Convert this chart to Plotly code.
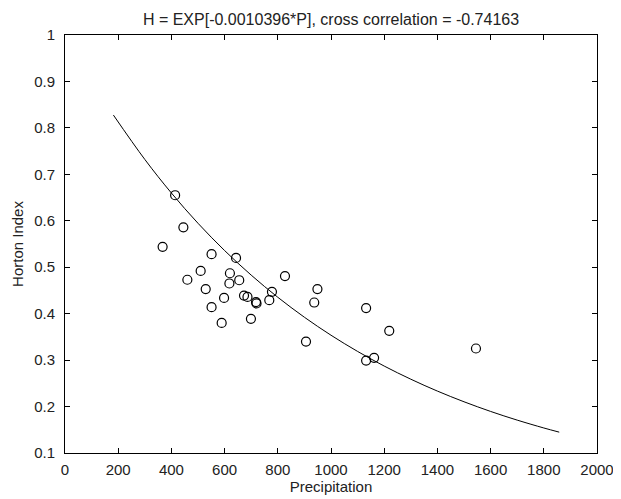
import plotly.graph_objects as go

# Observed data (Precipitation vs Horton Index)
precip = [414, 445, 367, 551, 643, 510, 460, 620, 655, 618, 529, 827, 949,
          598, 673, 686, 718, 720, 778, 768, 937, 551, 699, 589, 906,
          1132, 1219, 1132, 1162, 1545]
horton = [0.655, 0.586, 0.544, 0.528, 0.520, 0.492, 0.473, 0.487, 0.472, 0.465,
          0.453, 0.481, 0.453, 0.434, 0.439, 0.436, 0.425, 0.422, 0.447, 0.429,
          0.424, 0.414, 0.389, 0.380, 0.340, 0.412, 0.363, 0.299, 0.305, 0.325]

# Fitted curve H = EXP[-0.0010396*P]
fit_p = [182, 300, 400, 500, 600, 700, 800, 900, 1000, 1100, 1200, 1300,
         1400, 1500, 1600, 1700, 1800, 1858]
fit_h = [0.8276, 0.7321, 0.6598, 0.5946, 0.5359, 0.4830, 0.4353, 0.3923,
         0.3536, 0.3187, 0.2872, 0.2589, 0.2333, 0.2103, 0.1895, 0.1708,
         0.1539, 0.1449]

x_ticks = [0, 200, 400, 600, 800, 1000, 1200, 1400, 1600, 1800, 2000]
y_ticks = [0.1, 0.2, 0.3, 0.4, 0.5, 0.6, 0.7, 0.8, 0.9, 1.0]
y_ticktext = ["0.1", "0.2", "0.3", "0.4", "0.5", "0.6", "0.7", "0.8", "0.9", "1"]

title_text = "H = EXP[-0.0010396*P], cross correlation = -0.74163"

FONT = "Liberation Sans, Arial, Helvetica, sans-serif"
TXT = "#222222"

# the page body has an 8px margin; figure is sized so it fills the window
W, H = 613, 491

fig = go.Figure()
fig.add_trace(go.Scatter(
    x=precip, y=horton, mode="markers",
    marker=dict(symbol="circle-open", size=9, color="black",
                line=dict(width=1.2, color="black")),
    showlegend=False, hoverinfo="x+y"))
fig.add_trace(go.Scatter(
    x=fit_p, y=fit_h, mode="lines", line=dict(color="black", width=1),
    line_shape="spline", showlegend=False, hoverinfo="skip"))

axis_common = dict(
    showline=True, linecolor="black", linewidth=1, mirror="ticks",
    ticks="inside", ticklen=5, tickwidth=1, tickcolor="black",
    showgrid=False, zeroline=False, automargin=False,
    tickfont=dict(family=FONT, size=15, color=TXT),
)

fig.update_layout(
    width=W, height=H,
    margin=dict(l=57, r=24, t=27, b=46),
    paper_bgcolor="white", plot_bgcolor="white",
    title=dict(text=title_text, x=0.5, xref="paper", xanchor="center",
               y=1 - 11 / H, yref="container", yanchor="middle",
               font=dict(family=FONT, size=16, color=TXT)),
    xaxis=dict(range=[0, 2000], tickvals=x_ticks, ticklabelstandoff=3,
               title=dict(text="Precipitation", standoff=2,
                          font=dict(family=FONT, size=15, color=TXT)),
               **axis_common),
    yaxis=dict(range=[0.1, 1], tickvals=y_ticks, ticktext=y_ticktext,
               ticklabelstandoff=6,
               title=dict(text="Horton Index", standoff=6,
                          font=dict(family=FONT, size=15, color=TXT)),
               **axis_common),
)

fig.write_html("out.html")
